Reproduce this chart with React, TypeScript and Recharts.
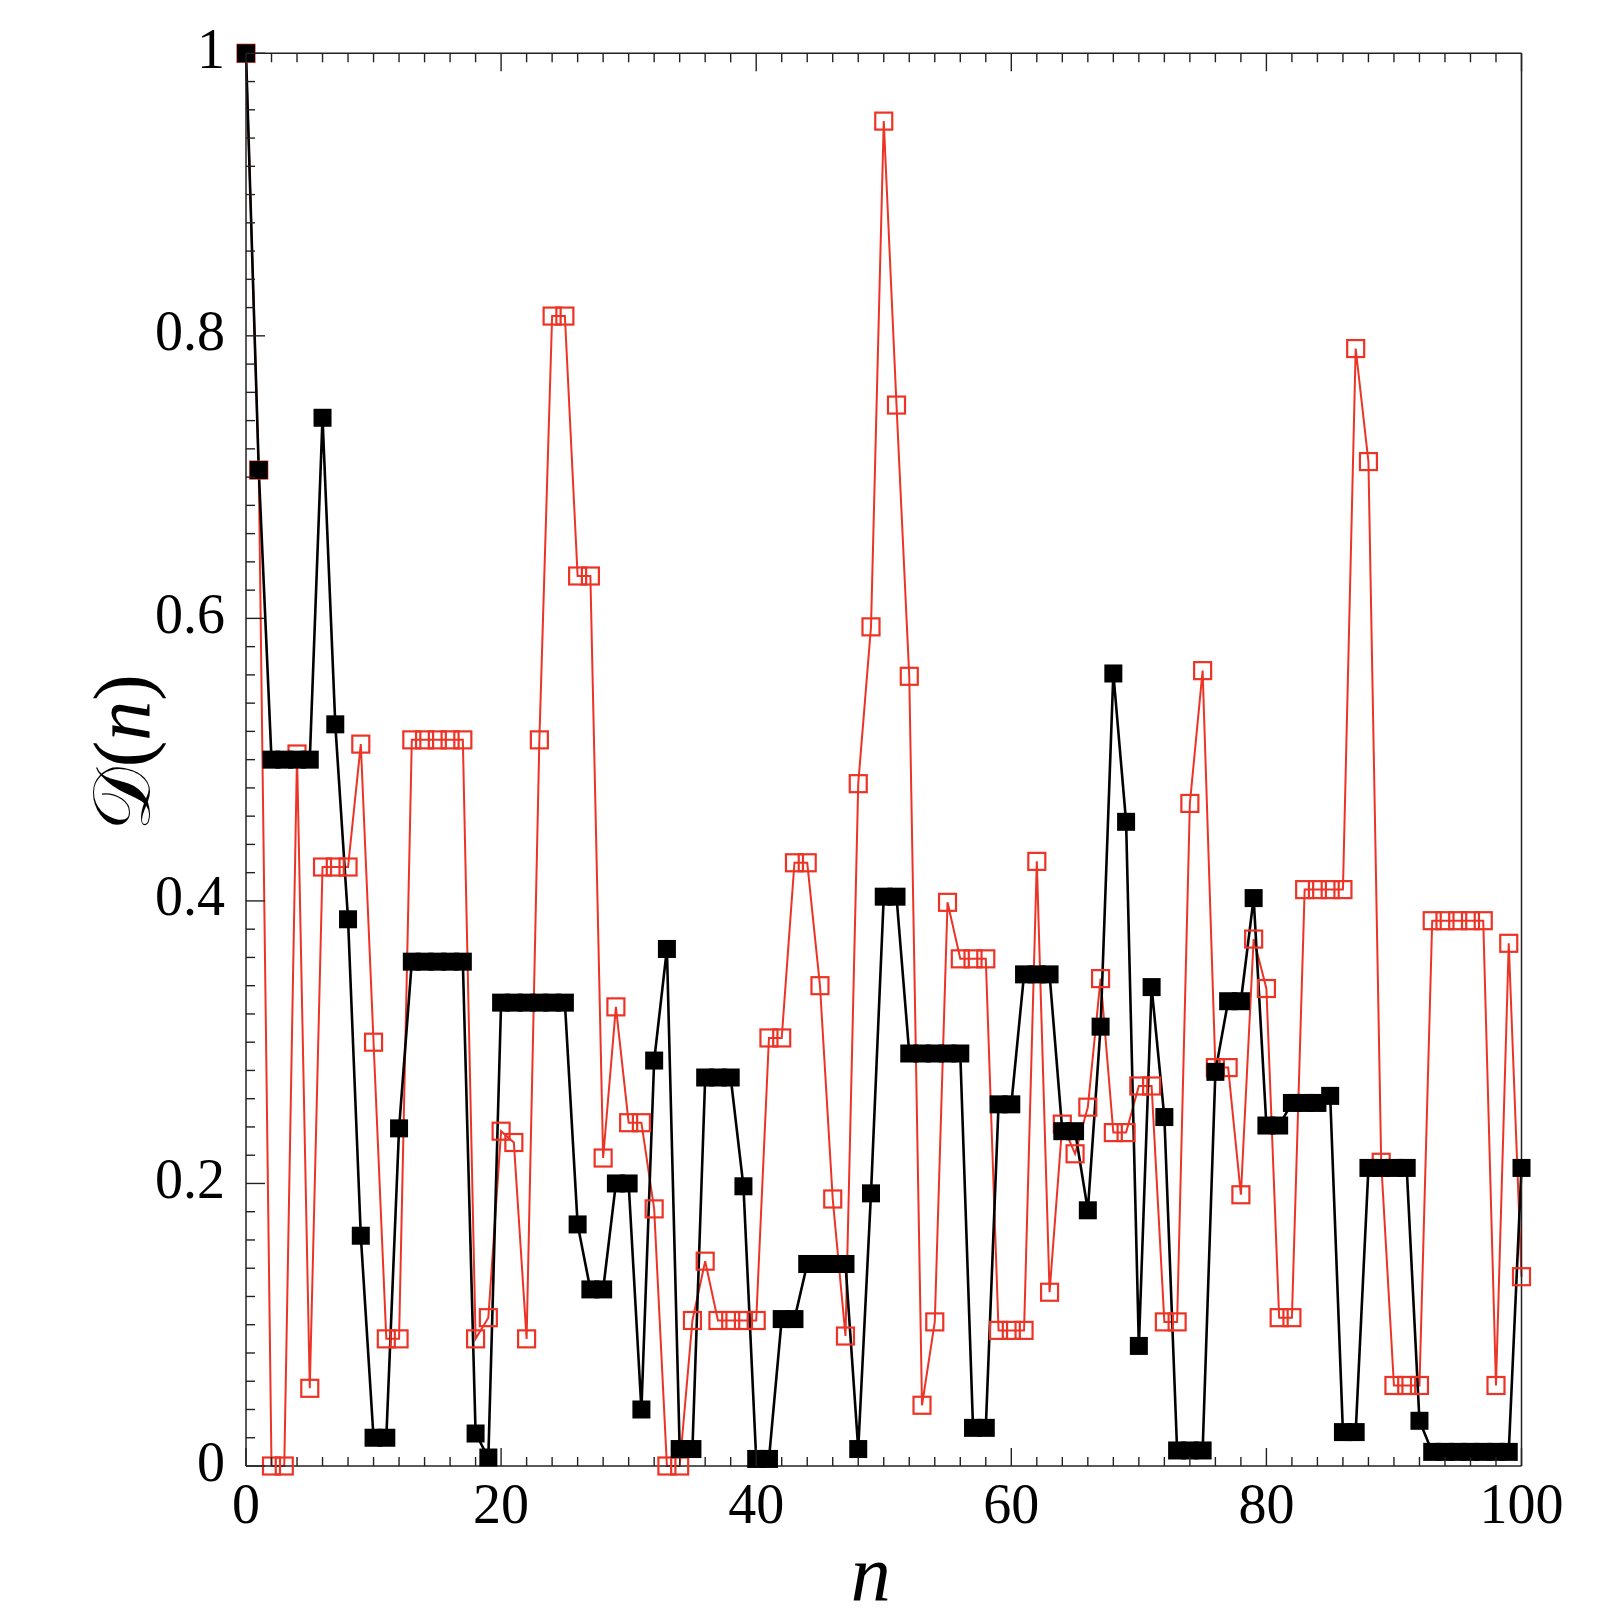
import React from "react";
import { ComposedChart, Line, XAxis, YAxis } from "recharts";

// n = 0..100
const nValues = Array.from({ length: 101 }, (_, i) => i);

// D(n), filled black squares
const dFilled = [
  1, 0.705, 0.5, 0.5, 0.5, 0.5, 0.742, 0.525, 0.387, 0.163,
  0.02, 0.02, 0.239, 0.357, 0.357, 0.357, 0.357, 0.357, 0.023, 0.006,
  0.328, 0.328, 0.328, 0.328, 0.328, 0.328, 0.171, 0.125, 0.125, 0.2,
  0.2, 0.04, 0.287, 0.366, 0.012, 0.012, 0.275, 0.275, 0.275, 0.198,
  0.005, 0.005, 0.104, 0.104, 0.143, 0.143, 0.143, 0.143, 0.012, 0.193,
  0.403, 0.403, 0.292, 0.292, 0.292, 0.292, 0.292, 0.027, 0.027, 0.256,
  0.256, 0.348, 0.348, 0.348, 0.237, 0.237, 0.181, 0.311, 0.561, 0.456,
  0.085, 0.339, 0.247, 0.011, 0.011, 0.011, 0.279, 0.329, 0.329, 0.402,
  0.241, 0.241, 0.257, 0.257, 0.257, 0.262, 0.024, 0.024, 0.211, 0.211,
  0.211, 0.211, 0.032, 0.01, 0.01, 0.01, 0.01, 0.01, 0.01, 0.01,
  0.211,
];

// D(n), open red squares
const dOpen = [
  1, 0.705, 0, 0, 0.504, 0.055, 0.424, 0.424, 0.424, 0.511,
  0.3, 0.09, 0.09, 0.514, 0.514, 0.514, 0.514, 0.514, 0.09, 0.105,
  0.237, 0.229, 0.09, 0.514, 0.814, 0.814, 0.63, 0.63, 0.218, 0.325,
  0.243, 0.243, 0.182, 0, 0, 0.103, 0.145, 0.103, 0.103, 0.103,
  0.103, 0.303, 0.303, 0.427, 0.427, 0.34, 0.189, 0.092, 0.483, 0.594,
  0.952, 0.751, 0.559, 0.043, 0.102, 0.399, 0.359, 0.359, 0.359, 0.096,
  0.096, 0.096, 0.428, 0.123, 0.242, 0.221, 0.254, 0.345, 0.236, 0.236,
  0.269, 0.269, 0.102, 0.102, 0.469, 0.563, 0.282, 0.282, 0.192, 0.373,
  0.338, 0.105, 0.105, 0.408, 0.408, 0.408, 0.408, 0.791, 0.711, 0.215,
  0.057, 0.057, 0.057, 0.386, 0.386, 0.386, 0.386, 0.386, 0.057, 0.37,
  0.134,
];

const xMajorLabels = ["0", "20", "40", "60", "80", "100"];
const yMajorLabels = ["0", "0.2", "0.4", "0.6", "0.8", "1"];

// minor ticks every 2 on x, every 0.02 on y
const xTicks = Array.from({ length: 51 }, (_, i) => i * 2);
const yTicks = Array.from({ length: 51 }, (_, i) => i / 50);

const RED = "#ec3426";
const AXIS = "#222";
const SERIF = "'Liberation Serif', 'DejaVu Serif', serif";

const rows = nValues.map((n, i) => ({ n, filled: dFilled[i], open: dOpen[i] }));

const isMajorY = (v: number) => Math.round(v * 50) % 10 === 0;

const BottomTick = (props: any) => {
  const { x, y, payload } = props;
  const v = payload.value;
  const major = v % 20 === 0;
  return (
    <g>
      <line x1={x} x2={x} y1={y} y2={y - (major ? 18 : 9)} stroke={AXIS} strokeWidth={1.4} />
      {major && (
        <text x={x} y={y + 57} textAnchor="middle" fontSize={56} fontFamily={SERIF} fill="#000">
          {xMajorLabels[v / 20]}
        </text>
      )}
    </g>
  );
};

const TopTick = (props: any) => {
  const { x, y, payload } = props;
  const major = payload.value % 20 === 0;
  return <line x1={x} x2={x} y1={y} y2={y + (major ? 18 : 9)} stroke={AXIS} strokeWidth={1.4} />;
};

const LeftTick = (props: any) => {
  const { x, y, payload } = props;
  const v = payload.value;
  const major = isMajorY(v);
  return (
    <g>
      <line x1={x} x2={x + (major ? 19 : 9)} y1={y} y2={y} stroke={AXIS} strokeWidth={1.4} />
      {major && (
        <text x={x - 21} y={y + 14.5} textAnchor="end" fontSize={56} fontFamily={SERIF} fill="#000">
          {yMajorLabels[Math.round(v * 5)]}
        </text>
      )}
    </g>
  );
};

const RightTick = (props: any) => {
  const { x, y, payload } = props;
  const major = isMajorY(payload.value);
  return <line x1={x} x2={x - (major ? 19 : 9)} y1={y} y2={y} stroke={AXIS} strokeWidth={1.4} />;
};

const FilledSquare = (props: any) => {
  const { cx, cy, index } = props;
  return <rect key={`f-${index}`} x={cx - 9} y={cy - 9} width={18} height={18} fill="#000" />;
};

const OpenSquare = (props: any) => {
  const { cx, cy, index } = props;
  return (
    <rect
      key={`o-${index}`}
      x={cx - 8.5}
      y={cy - 8.5}
      width={17}
      height={17}
      fill="none"
      stroke={RED}
      strokeWidth={2.2}
    />
  );
};

const xTitle = (props: any) => {
  const { viewBox } = props;
  return (
    <text
      x={viewBox.x + viewBox.width / 2 - 13}
      y={viewBox.y + 134}
      textAnchor="middle"
      fontSize={80}
      fontStyle="italic"
      fontFamily={SERIF}
      fill="#000"
    >
      n
    </text>
  );
};

const yTitle = (props: any) => {
  const { viewBox } = props;
  const cx = viewBox.x + 76;
  const cy = viewBox.y + viewBox.height / 2 - 7;
  return (
    <text
      transform={`translate(${cx},${cy}) rotate(-90)`}
      textAnchor="middle"
      dominantBaseline="central"
      fontSize={80}
      fontFamily={SERIF}
      fill="#000"
    >
      𝒟(<tspan fontStyle="italic">n</tspan>)
    </text>
  );
};

export default function App() {
  // the chart is 10px taller than the space it takes, so the n title has room below
  return (
    <div style={{ marginBottom: -10 }}>
      <ComposedChart
        width={1600}
        height={1610}
        data={rows}
        margin={{ top: 35.3, right: 76.5, bottom: 22, left: 38 }}
      >
        <XAxis
          xAxisId="bottom"
          dataKey="n"
          type="number"
          domain={[0, 100]}
          ticks={xTicks}
          interval={0}
          height={130}
          tickSize={0}
          tickMargin={0}
          tick={BottomTick}
          axisLine={{ stroke: AXIS, strokeWidth: 1.5 }}
          label={xTitle}
        />
        <XAxis
          xAxisId="top"
          orientation="top"
          dataKey="n"
          type="number"
          domain={[0, 100]}
          ticks={xTicks}
          interval={0}
          height={10}
          tickSize={0}
          tickMargin={0}
          tick={TopTick}
          axisLine={{ stroke: AXIS, strokeWidth: 1.5 }}
        />
        <YAxis
          yAxisId="left"
          type="number"
          domain={[0, 1]}
          ticks={yTicks}
          interval={0}
          width={200}
          tickSize={0}
          tickMargin={0}
          tick={LeftTick}
          axisLine={{ stroke: AXIS, strokeWidth: 1.5 }}
          label={yTitle}
        />
        <YAxis
          yAxisId="right"
          orientation="right"
          type="number"
          domain={[0, 1]}
          ticks={yTicks}
          interval={0}
          width={10}
          tickSize={0}
          tickMargin={0}
          tick={RightTick}
          axisLine={{ stroke: AXIS, strokeWidth: 1.5 }}
        />
        <Line
          xAxisId="bottom"
          yAxisId="left"
          type="linear"
          dataKey="open"
          stroke={RED}
          strokeWidth={2}
          dot={(p: any) => <OpenSquare key={`o-${p.index}`} {...p} />}
          activeDot={false}
          isAnimationActive={false}
        />
        <Line
          xAxisId="bottom"
          yAxisId="left"
          type="linear"
          dataKey="filled"
          stroke="#000"
          strokeWidth={2.6}
          dot={(p: any) => <FilledSquare key={`f-${p.index}`} {...p} />}
          activeDot={false}
          isAnimationActive={false}
        />
      </ComposedChart>
    </div>
  );
}
